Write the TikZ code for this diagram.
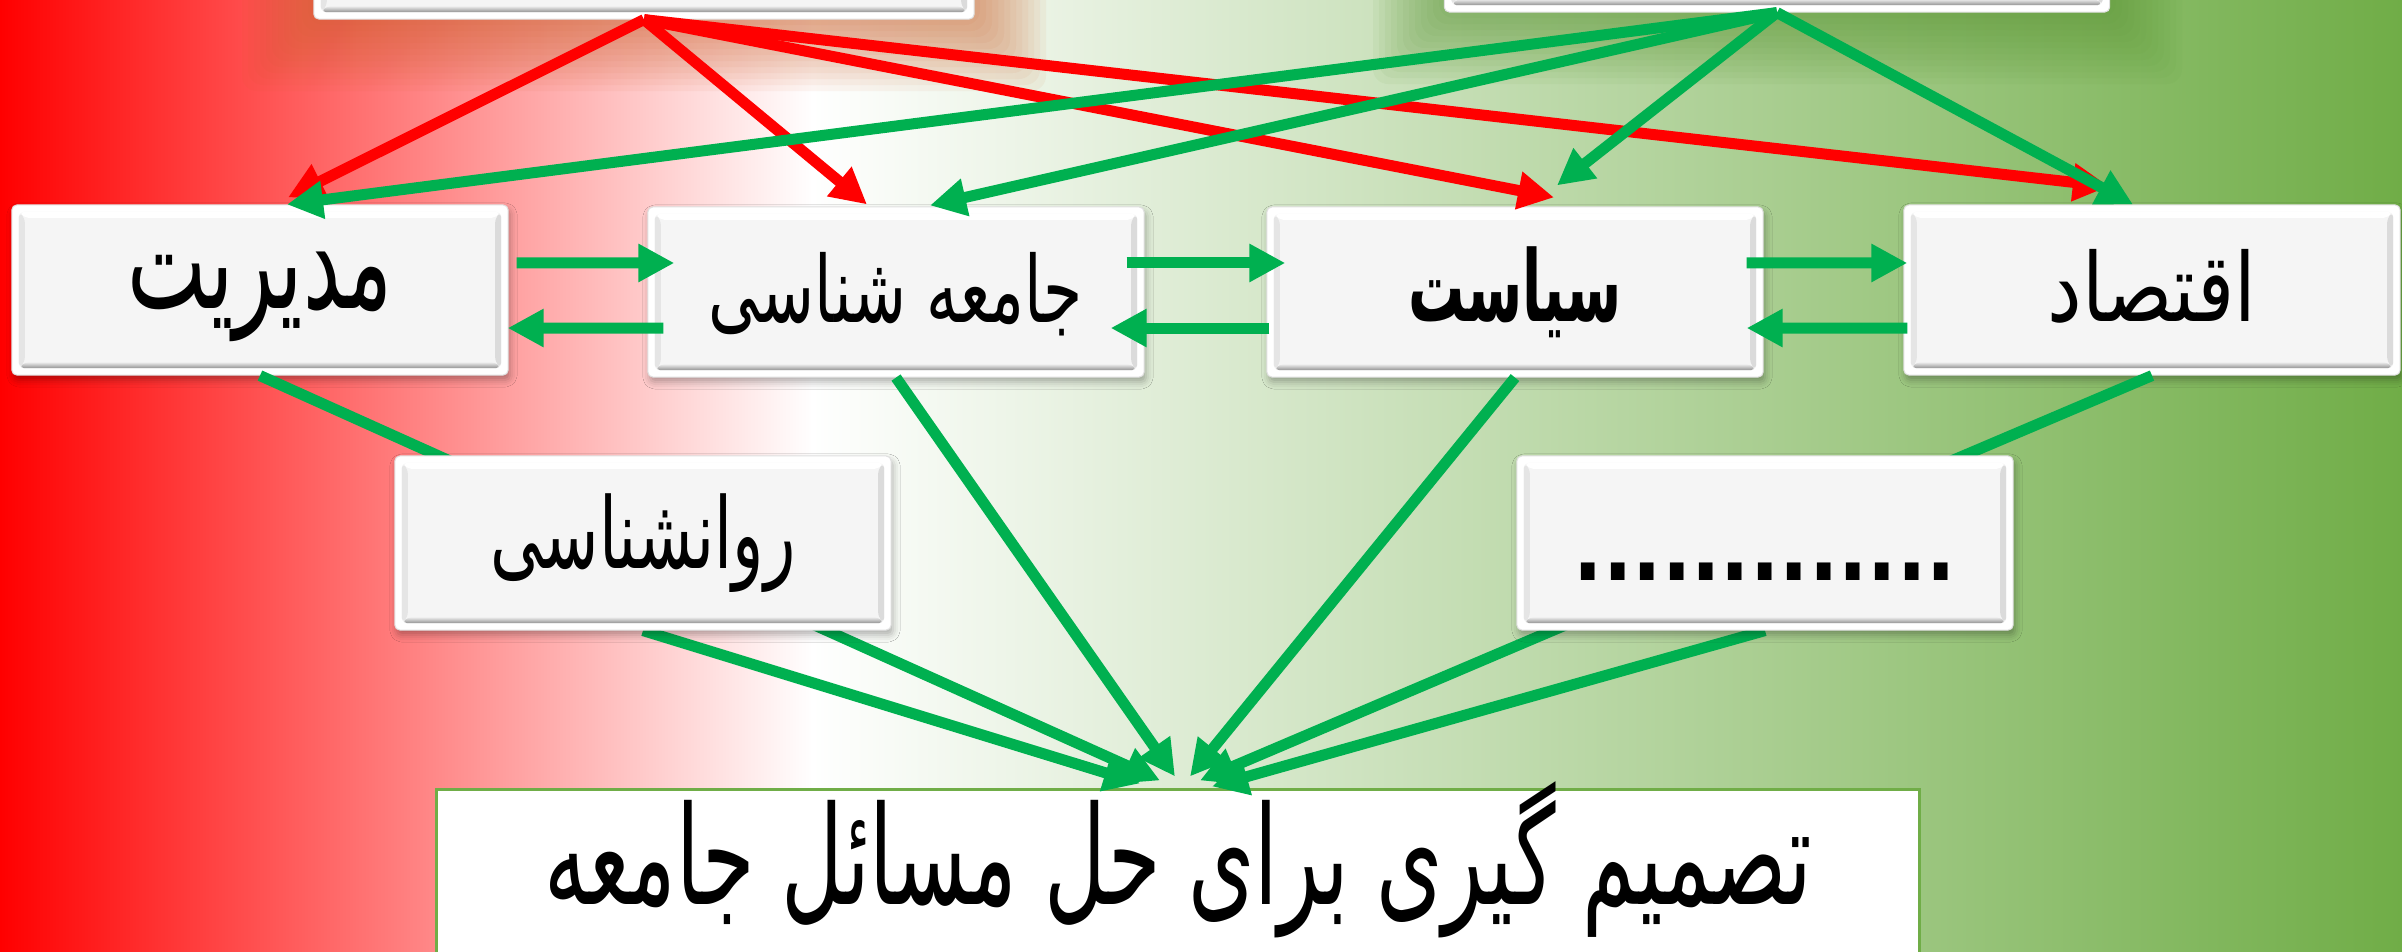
\documentclass[tikz,border=0pt]{standalone}
\usepackage{fontspec}
\usepackage{graphicx}
\usetikzlibrary{arrows.meta,shadows.blur,calc}
\TeXXeTstate=1
\newfontfamily\arabicfont[Script=Arabic]{DejaVu Sans}
\newfontfamily\dotfont{DejaVu Sans}
\definecolor{gline}{HTML}{00B050}
\definecolor{rline}{HTML}{FF0000}
\definecolor{bgreen}{HTML}{70AD47}
\definecolor{glowO}{RGB}{205,95,40}
\definecolor{glowG}{RGB}{90,150,50}
% #1 size, #2 horizontal scale, #3 vertical scale, #4 raise, #5 text
\newcommand{\fa}[5]{\raisebox{#4}[\height][\depth]{\scalebox{#2}[#3]{\arabicfont\fontsize{#1}{#1}\selectfont #5}}}
\newcommand{\fab}[5]{\raisebox{#4}[\height][\depth]{\scalebox{#2}[#3]{\arabicfont\bfseries\fontsize{#1}{#1}\selectfont #5}}}
\pgfdeclarelayer{conn}
\pgfdeclarelayer{front}
\pgfsetlayers{main,conn,front}
\tikzset{
  bevelbox/.style={rectangle, rounded corners=0.05cm, fill=white, draw=black!12,
    line width=0.3pt, inner sep=0pt, minimum width=4.96cm, minimum height=1.70cm,
    path picture={
      \def\pp{path picture bounding box}
      \fill[black!4] ([shift={(0.07cm,-0.07cm)}]\pp.north west) rectangle ([shift={(-0.07cm,0.07cm)}]\pp.south east);
      \fill[white] ([shift={(0.07cm,-0.07cm)}]\pp.north west) -- ([shift={(0.13cm,-0.13cm)}]\pp.north west) -- ([shift={(-0.13cm,-0.13cm)}]\pp.north east) -- ([shift={(-0.07cm,-0.07cm)}]\pp.north east) -- cycle;
      \shade[top color=black!6, bottom color=black!42] ([shift={(0.07cm,0.07cm)}]\pp.south west) -- ([shift={(0.13cm,0.13cm)}]\pp.south west) -- ([shift={(-0.13cm,0.13cm)}]\pp.south east) -- ([shift={(-0.07cm,0.07cm)}]\pp.south east) -- cycle;
      \fill[black!14] ([shift={(-0.07cm,-0.07cm)}]\pp.north east) -- ([shift={(-0.13cm,-0.13cm)}]\pp.north east) -- ([shift={(-0.13cm,0.13cm)}]\pp.south east) -- ([shift={(-0.07cm,0.07cm)}]\pp.south east) -- cycle;
      \fill[black!10] ([shift={(0.07cm,-0.07cm)}]\pp.north west) -- ([shift={(0.13cm,-0.13cm)}]\pp.north west) -- ([shift={(0.13cm,0.13cm)}]\pp.south west) -- ([shift={(0.07cm,0.07cm)}]\pp.south west) -- cycle;
    }},
  shadowed/.style={blur shadow={shadow xshift=0.02cm, shadow yshift=-0.05cm, shadow blur radius=0.07cm, shadow opacity=30}},
  garrow/.style={draw=gline, line width=0.11cm, -{Triangle[length=0.36cm, width=0.36cm]}},
  rarrow/.style={draw=rline, line width=0.11cm, -{Triangle[length=0.36cm, width=0.36cm]}},
  goal/.style={rectangle, fill=white, draw=bgreen, line width=0.03cm, inner sep=0pt,
    minimum width=14.83cm, minimum height=1.64cm},
  lbl/.style={inner sep=0pt}
}
\begin{document}
\begin{tikzpicture}[x=0.01cm,y=-0.01cm]
\useasboundingbox (0,0) rectangle (2402,951);
% background
\shade[left color=red, right color=white] (0,0) rectangle (813,951);
\shade[left color=white, right color=bgreen] (811,0) rectangle (2402,951);
\foreach \i in {1,...,12}{
  \fill[glowO, opacity=0.06, rounded corners=0.15cm] (314-6*\i,-100) rectangle (974+6*\i,19+6*\i);
  \fill[glowG, opacity=0.06, rounded corners=0.15cm] (1445-6*\i,-100) rectangle (2110+6*\i,12+6*\i);
}

% top boxes (cut off)
\node[bevelbox, minimum width=6.60cm, minimum height=1.72cm] (topL) at (644,-67) {};
\node[bevelbox, minimum width=6.65cm, minimum height=1.72cm] (topR) at (1777,-74) {};

% row of disciplines
\node[bevelbox, shadowed] (mod) at (260,290) {\fa{31}{0.77}{1.25}{-0.07cm}{\beginR مدیریت\endR}};
\node[bevelbox, shadowed] (jam) at (896,292) {\fa{25}{0.72}{1.05}{-0.02cm}{\beginR جامعه شناسی\endR}};
\node[bevelbox, shadowed] (siy) at (1515,292) {\fab{28}{0.57}{1.0}{0cm}{\beginR سیاست\endR}};
\node[bevelbox, shadowed] (eqt) at (2152,290) {\fa{27}{0.82}{1.0}{0.04cm}{\beginR اقتصاد\endR}};

% goal
\node[goal] (goal) at (1178,872) {\fa{39}{0.62}{1.0}{0.12cm}{\beginR تصمیم گیری برای حل مسائل جامعه\endR}};

\begin{pgfonlayer}{front}
  \node[bevelbox, shadowed, minimum height=1.74cm] (rav) at (643,543) {\fa{28}{0.66}{1.0}{0cm}{\beginR روانشناسی\endR}};
  \node[bevelbox, shadowed, minimum height=1.74cm] (dots) at (1765,543) {};
  \node[lbl, anchor=base] (dotstxt) at (1765,580) {\scalebox{1}[1.2]{\dotfont\bfseries\fontsize{22}{22}\selectfont .............}};
\end{pgfonlayer}

\begin{pgfonlayer}{conn}
  % red arrows
  \draw[rarrow] (topL.south) -- ([xshift=0.28cm,yshift=0.07cm]mod.north);
  \draw[rarrow] (topL.south) -- ([xshift=-0.29cm,yshift=0.02cm]jam.north);
  \draw[rarrow] (topL.south) -- ([xshift=0.39cm,yshift=0.09cm]siy.north);
  \draw[rarrow] (topL.south) -- ([xshift=-0.43cm,yshift=0.18cm]eqt.north);
  % green arrows
  \draw[garrow] (topR.south) -- ([xshift=0.27cm,yshift=0cm]mod.north);
  \draw[garrow] (topR.south) -- ([xshift=0.34cm,yshift=0.01cm]jam.north);
  \draw[garrow] (topR.south) -- ([xshift=0.42cm,yshift=0.21cm]siy.north);
  \draw[garrow] (topR.south) -- ([xshift=-0.19cm,yshift=0cm]eqt.north);
  % horizontal pairs
  \draw[garrow] ([xshift=0.08cm,yshift=0.27cm]mod.east) -- ([xshift=0.27cm,yshift=0.29cm]jam.west);
  \draw[garrow] ([xshift=0.16cm,yshift=-0.36cm]jam.west) -- ([xshift=-0.01cm,yshift=-0.38cm]mod.east);
  \draw[garrow] ([xshift=-0.18cm,yshift=0.29cm]jam.east) -- ([xshift=0.19cm,yshift=0.29cm]siy.west);
  \draw[garrow] ([xshift=0.03cm,yshift=-0.36cm]siy.west) -- ([xshift=-0.34cm,yshift=-0.36cm]jam.east);
  \draw[garrow] ([xshift=-0.17cm,yshift=0.29cm]siy.east) -- ([xshift=0.04cm,yshift=0.27cm]eqt.west);
  \draw[garrow] ([xshift=0.04cm,yshift=-0.38cm]eqt.west) -- ([xshift=-0.17cm,yshift=-0.36cm]siy.east);
  % to the goal
  \draw[garrow] (mod.south) -- ([xshift=-0.18cm,yshift=0.08cm]goal.north);
  \draw[garrow] (rav.south) -- ([xshift=-0.38cm,yshift=0.05cm]goal.north);
  \draw[garrow] (jam.south) -- ([xshift=-0.03cm,yshift=0.12cm]goal.north);
  \draw[garrow] (siy.south) -- ([xshift=0.12cm,yshift=0.12cm]goal.north);
  \draw[garrow] (eqt.south) -- ([xshift=0.22cm,yshift=0.08cm]goal.north);
  \draw[garrow] (dots.south) -- ([xshift=0.34cm,yshift=0.02cm]goal.north);
\end{pgfonlayer}
\end{tikzpicture}
\end{document}
